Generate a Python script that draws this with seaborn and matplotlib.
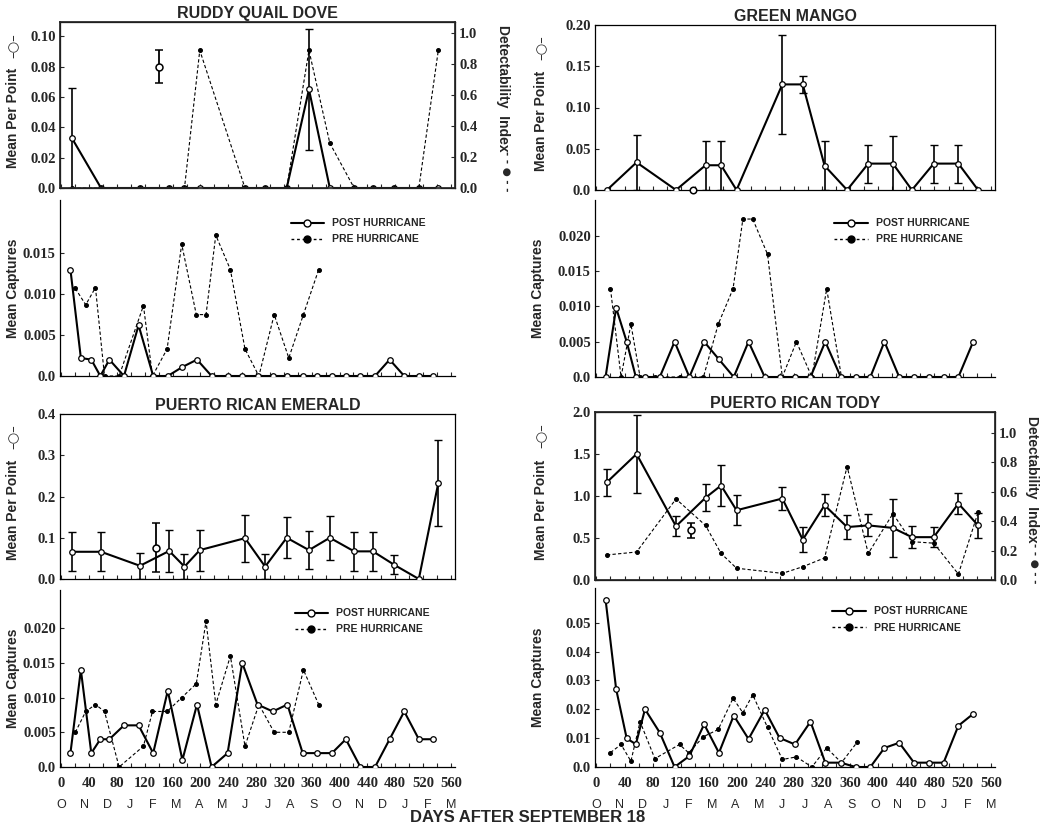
import numpy as np
import matplotlib
matplotlib.use("Agg")
import matplotlib.pyplot as plt
import seaborn as sns
from matplotlib.lines import Line2D
from matplotlib.transforms import blended_transform_factory

# ---------------- data ----------------
survey_days = [15, 57, 113, 155, 177, 199, 264, 293, 324, 356, 386, 421, 448, 479, 514, 542]
capture_days = [13, 28, 43, 56, 69, 90, 111, 132, 153, 174, 195, 216, 239, 260, 282,
                304, 325, 347, 368, 389, 409, 430, 451, 472, 493, 514, 535]
pre_capture_days = [20, 35, 49, 62, 83, 118, 131, 152, 173, 194, 208, 222, 243, 264,
                    284, 306, 327, 348, 370]

# Ruddy Quail Dove
ruddy_mpp = [0.033, 0, 0, 0, 0, 0, 0, 0, 0, 0.065, 0, 0, 0, 0, 0, 0]
ruddy_mpp_err = [0.033, 0, 0, 0, 0, 0, 0, 0, 0, 0.04, 0, 0, 0, 0, 0, 0]
ruddy_detect = [0, 0, 0, 0, 0, 0.89, 0, 0, 0, 0.89, 0.29, 0, 0, 0, 0, 0.89]
ruddy_pre_day, ruddy_pre_mpp, ruddy_pre_err = 140, 0.080, 0.011
ruddy_post_cap = [0.013, 0.0022, 0.002, 0, 0.002, 0, 0.0062, 0, 0, 0.0011, 0.002, 0, 0,
                  0, 0, 0, 0, 0, 0, 0, 0, 0, 0, 0.002, 0, 0, 0]
ruddy_pre_cap = [0.0107, 0.0087, 0.0108, 0, 0, 0.0086, 0, 0.0033, 0.0161, 0.0075, 0.0075,
                 0.0172, 0.013, 0.0033, 0, 0.0075, 0.0022, 0.0075, 0.013]

# Green Mango
mango_mpp = [0, 0.0335, 0, 0.030, 0.030, 0, 0.128, 0.128, 0.0295, 0, 0.032, 0.032, 0,
             0.032, 0.032, 0]
mango_mpp_err = [0, 0.033, 0, 0.03, 0.03, 0, 0.06, 0.01, 0.03, 0, 0.023, 0.033, 0,
                 0.023, 0.023, 0]
mango_pre_day, mango_pre_mpp, mango_pre_err = 137, 0.0, 0.0
mango_post_cap = [0, 0.0098, 0.005, 0, 0, 0, 0.005, 0, 0.005, 0.0025, 0, 0.005, 0, 0, 0,
                  0, 0.005, 0, 0, 0, 0.005, 0, 0, 0, 0, 0, 0.005]
mango_pre_cap = [0.0125, 0, 0.0075, 0, 0, 0, 0, 0, 0.0075, 0.0125, 0.0224, 0.0224,
                 0.0174, 0, 0.005, 0, 0.0125, 0]

# Puerto Rican Emerald
emerald_mpp = [0.066, 0.066, 0.032, 0.068, 0.030, 0.070, 0.099, 0.030, 0.100, 0.070,
               0.100, 0.067, 0.067, 0.034, 0.0, 0.233]
emerald_mpp_err = [0.047, 0.047, 0.032, 0.05, 0.03, 0.05, 0.057, 0.03, 0.05, 0.046,
                   0.053, 0.047, 0.047, 0.023, 0, 0.105]
emerald_pre_day, emerald_pre_mpp, emerald_pre_err = 136, 0.076, 0.06
emerald_post_cap = [0.002, 0.014, 0.002, 0.004, 0.004, 0.006, 0.006, 0.002, 0.011, 0.001,
                    0.009, 0, 0.002, 0.015, 0.009, 0.008, 0.009, 0.002, 0.002, 0.002,
                    0.004, 0, 0, 0.004, 0.008, 0.004, 0.004]
emerald_pre_cap = [0.005, 0.008, 0.009, 0.008, 0, 0.003, 0.008, 0.008, 0.010, 0.012,
                   0.021, 0.009, 0.016, 0.003, 0.009, 0.005, 0.005, 0.014, 0.009]

# Puerto Rican Tody
tody_mpp = [1.165, 1.50, 0.64, 0.98, 1.125, 0.83, 0.97, 0.48, 0.89, 0.63, 0.65, 0.62,
            0.51, 0.51, 0.91, 0.65]
tody_mpp_err = [0.16, 0.47, 0.12, 0.16, 0.24, 0.18, 0.14, 0.15, 0.13, 0.14, 0.13, 0.35,
                0.13, 0.12, 0.12, 0.15]
tody_detect = [0.17, 0.19, 0.55, 0.37, 0.18, 0.08, 0.045, 0.09, 0.15, 0.77, 0.18, 0.45,
               0.26, 0.25, 0.04, 0.46]
tody_pre_day, tody_pre_mpp, tody_pre_err = 134, 0.59, 0.085
tody_post_cap = [0.058, 0.027, 0.0099, 0.0079, 0.020, 0.0119, 0, 0.0038, 0.0148, 0.0049,
                 0.0178, 0.0097, 0.0198, 0.0101, 0.0078, 0.0157, 0.0015, 0.0015, 0, 0,
                 0.0066, 0.0084, 0.0015, 0.0015, 0.0015, 0.0143, 0.0184]
tody_pre_cap = [0.005, 0.0078, 0.002, 0.0157, 0.0029, 0.0078, 0.0049, 0.0105, 0.013,
                0.0238, 0.0188, 0.025, 0.0137, 0.0026, 0.0035, 0, 0.0066, 0.0015, 0.0085]

day_ticks = list(range(0, 561, 40))
month_labels = ["O", "N", "D", "J", "F", "M", "A", "M", "J", "J", "A", "S",
                "O", "N", "D", "J", "F", "M"]

# ---------------- style ----------------
sns.set_theme(style="ticks")
plt.rcParams["font.family"] = ["Liberation Serif", "DejaVu Serif"]
plt.rcParams["font.weight"] = "bold"
SANS = ["Liberation Sans", "DejaVu Sans"]
SERIF = ["Liberation Serif", "DejaVu Serif"]
TICKFS = 10.5

fig = plt.figure(figsize=(10.58, 8.27), dpi=100)
W, H = 1058.0, 827.0


def add_ax(x0, x1, y0, y1):
    return fig.add_axes([x0 / W, 1 - y1 / H, (x1 - x0) / W, (y1 - y0) / H])


XL = (-2, 566)


def serif_ticks(ax):
    for lbl in ax.get_xticklabels() + ax.get_yticklabels():
        lbl.set_fontfamily(SERIF)
        lbl.set_fontweight("bold")


def style_x(ax, bottom_row):
    ax.set_xlim(*XL)
    ax.set_xticks(day_ticks)
    ax.set_xticks(list(range(20, 561, 40)), minor=True)
    ax.tick_params(axis="x", which="both", direction="in", length=3, width=0.8,
                   labelbottom=bottom_row, labelsize=TICKFS, pad=7)
    if bottom_row:
        ax.set_xticklabels([str(d) for d in day_ticks])
        trans = blended_transform_factory(ax.transData, ax.transAxes)
        for xp, m in zip(np.linspace(0, 560, len(month_labels)), month_labels):
            ax.text(xp, -0.215, m, transform=trans, ha="center", va="center",
                    fontsize=9, family=SANS, fontweight="normal")


def style_y(ax, ticks, labels, ylim):
    ax.set_ylim(*ylim)
    ax.set_yticks(ticks)
    ax.set_yticklabels(labels)
    ax.tick_params(axis="y", direction="in", length=3, width=0.8, labelsize=TICKFS, pad=3)


def upper(ax, mpp, err, pre_day, pre_mpp, pre_err, title, ylim, yticks, ylabels,
          label_x, sym_x):
    sns.lineplot(x=survey_days, y=mpp, ax=ax, color="black", lw=1.5, marker="o",
                 markersize=4, markerfacecolor="white", markeredgecolor="black",
                 markeredgewidth=0.9, zorder=4)
    xs = [d for d, e in zip(survey_days, err) if e > 0]
    ys = [v for v, e in zip(mpp, err) if e > 0]
    es = [e for e in err if e > 0]
    ax.errorbar(xs, ys, yerr=es, fmt="none", ecolor="black", elinewidth=1.2,
                capsize=3, capthick=1.0, zorder=3)
    if pre_err > 0:
        ax.errorbar([pre_day], [pre_mpp], yerr=[pre_err], fmt="o", ms=5,
                    mfc="white", mec="black", mew=1.1, ecolor="black",
                    elinewidth=1.3, capsize=3, zorder=5)
    else:
        sns.scatterplot(x=[pre_day], y=[pre_mpp], ax=ax, s=22, facecolor="white",
                        edgecolor="black", linewidth=1.1, zorder=5, clip_on=False)
    ax.set_title(title, family=SANS, fontweight="bold", fontsize=11.5, pad=3)
    style_y(ax, yticks, ylabels, ylim)
    style_x(ax, False)
    serif_ticks(ax)
    ax.set_xlabel("")
    ax.set_ylabel("Mean Per Point", family=SANS, fontweight="bold", fontsize=10)
    ax.yaxis.set_label_coords(label_x, 0.42)
    ax.text(sym_x, 0.86, "\u2013\u25CB\u2013", transform=ax.transAxes, rotation=90,
            ha="center", va="center", family=["DejaVu Sans"], fontsize=9.5,
            fontweight="normal")
    for s in ax.spines.values():
        s.set_linewidth(0.9)
        s.set_color("black")


def add_detect(ax, detect, ylim, label_x, sym_x):
    ax2 = ax.twinx()
    sns.lineplot(x=survey_days, y=detect, ax=ax2, color="black", lw=0.8,
                 linestyle=(0, (3, 2)), marker="o", markersize=2.8,
                 markeredgecolor="black", zorder=2)
    ax2.set_ylim(*ylim)
    ax2.set_yticks([0, 0.2, 0.4, 0.6, 0.8, 1.0])
    ax2.set_yticklabels(["0.0", "0.2", "0.4", "0.6", "0.8", "1.0"])
    ax2.tick_params(axis="y", direction="in", length=3, width=0.8, labelsize=TICKFS, pad=3)
    serif_ticks(ax2)
    ax2.set_ylabel("Detectability  Index", family=SANS,
                   fontweight="bold", fontsize=10, rotation=270)
    ax2.yaxis.set_label_coords(label_x, 0.6)
    ax2.text(sym_x, 0.1, "- - \u25CF - -", transform=ax2.transAxes, rotation=270,
             ha="center", va="center", family=["DejaVu Sans"], fontsize=7.5,
             fontweight="bold")
    ax2.set_xlim(*XL)
    return ax2


def lower(ax, post, pre, ylim, yticks, ylabels, bottom_row, label_x, leg_x):
    sns.lineplot(x=pre_capture_days[:len(pre)], y=pre, ax=ax, color="black", lw=0.8,
                 linestyle=(0, (3, 2)), marker="o", markersize=2.8,
                 markeredgecolor="black", zorder=2)
    sns.lineplot(x=capture_days, y=post, ax=ax, color="black", lw=1.5, marker="o",
                 markersize=4, markerfacecolor="white", markeredgecolor="black",
                 markeredgewidth=0.9, zorder=4)
    style_y(ax, yticks, ylabels, ylim)
    style_x(ax, bottom_row)
    serif_ticks(ax)
    ax.set_xlabel("")
    ax.set_ylabel("Mean Captures", family=SANS, fontweight="bold", fontsize=10)
    ax.yaxis.set_label_coords(label_x, 0.5)
    sns.despine(ax=ax)
    for s in ("left", "bottom"):
        ax.spines[s].set_linewidth(0.9)
        ax.spines[s].set_color("black")
    handles = [
        Line2D([], [], color="black", lw=1.5, marker="o", ms=5, mfc="white", mec="black"),
        Line2D([], [], color="black", lw=1.0, ls=(0, (2, 2)), marker="o", ms=5,
               mfc="black", mec="black"),
    ]
    ax.legend(handles, ["POST HURRICANE", "PRE HURRICANE"], loc="upper left",
              bbox_to_anchor=(leg_x, 0.95), frameon=False, handlelength=3.2,
              numpoints=1, labelspacing=0.6,
              prop=dict(family=SANS, weight="bold", size=7.5))


# ---------------- panels ----------------
LX0, LX1 = 60, 455
RX0, RX1 = 595, 995

ax_a = add_ax(LX0, LX1, 22, 188)
upper(ax_a, ruddy_mpp, ruddy_mpp_err, ruddy_pre_day, ruddy_pre_mpp, ruddy_pre_err,
      "RUDDY QUAIL DOVE", (0, 0.1095),
      [0, 0.02, 0.04, 0.06, 0.08, 0.10], ["0.0", "0.02", "0.04", "0.06", "0.08", "0.10"],
      -0.101, -0.116)
add_detect(ax_a, ruddy_detect, (0, 1.073), 1.14, 1.128)

ax_b = add_ax(LX0, LX1, 200, 376)
lower(ax_b, ruddy_post_cap, ruddy_pre_cap, (0, 0.0215),
      [0, 0.005, 0.010, 0.015], ["0.0", "0.005", "0.010", "0.015"], False, -0.101, 0.56)

ax_c = add_ax(RX0, RX1, 25, 190)
upper(ax_c, mango_mpp, mango_mpp_err, mango_pre_day, mango_pre_mpp, mango_pre_err,
      "GREEN MANGO", (0, 0.2),
      [0, 0.05, 0.10, 0.15, 0.20], ["0.0", "0.05", "0.10", "0.15", "0.20"],
      -0.118, -0.133)

ax_d = add_ax(RX0, RX1, 200, 377)
lower(ax_d, mango_post_cap, mango_pre_cap, (0, 0.0251),
      [0, 0.005, 0.010, 0.015, 0.020], ["0.0", "0.005", "0.010", "0.015", "0.020"],
      False, -0.125, 0.575)

ax_e = add_ax(LX0, LX1, 414, 579)
upper(ax_e, emerald_mpp, emerald_mpp_err, emerald_pre_day, emerald_pre_mpp,
      emerald_pre_err, "PUERTO RICAN EMERALD", (0, 0.4),
      [0, 0.1, 0.2, 0.3, 0.4], ["0.0", "0.1", "0.2", "0.3", "0.4"], -0.101, -0.116)

ax_f = add_ax(LX0, LX1, 590, 767)
lower(ax_f, emerald_post_cap, emerald_pre_cap, (0, 0.0255),
      [0, 0.005, 0.010, 0.015, 0.020], ["0.0", "0.005", "0.010", "0.015", "0.020"],
      True, -0.101, 0.57)

ax_g = add_ax(RX0, RX1, 412, 580)
upper(ax_g, tody_mpp, tody_mpp_err, tody_pre_day, tody_pre_mpp, tody_pre_err,
      "PUERTO RICAN TODY", (0, 2.0),
      [0, 0.5, 1.0, 1.5, 2.0], ["0.0", "0.5", "1.0", "1.5", "2.0"], -0.118, -0.133)
add_detect(ax_g, tody_detect, (0, 1.14), 1.11, 1.098)

ax_h = add_ax(RX0, RX1, 588, 767)
lower(ax_h, tody_post_cap, tody_pre_cap, (0, 0.062),
      [0, 0.01, 0.02, 0.03, 0.04, 0.05], ["0.0", "0.01", "0.02", "0.03", "0.04", "0.05"],
      True, -0.125, 0.57)

fig.text(0.499, 1 - 818 / H, "DAYS AFTER SEPTEMBER 18", ha="center", va="center",
         family=SANS, fontweight="bold", fontsize=12)

fig.savefig("out.png", dpi=100)
